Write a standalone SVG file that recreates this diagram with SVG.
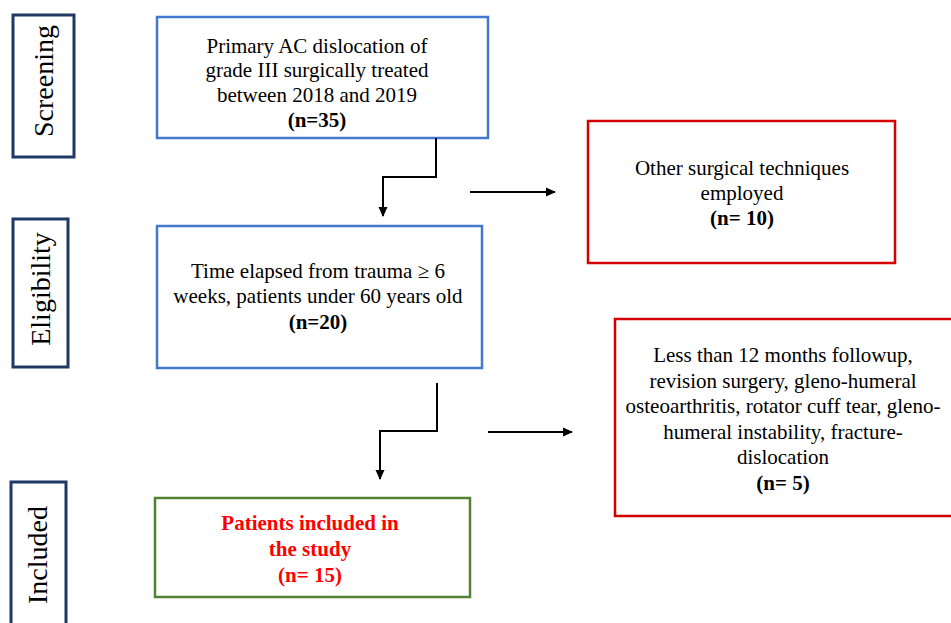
<svg xmlns="http://www.w3.org/2000/svg" width="951" height="623" viewBox="0 0 951 623">
<style>
text{font-family:"Liberation Serif","Times New Roman",serif;fill:#000;text-anchor:middle}
.t{font-size:21px}
.b{font-weight:bold}
.stage{fill:#fff;stroke:#1f3864;stroke-width:3}
.st{font-size:28px}
.blue{fill:#fff;stroke:#4278cf;stroke-width:2.5}
.red{fill:#fff;stroke:#d40000;stroke-width:2.5}
.green{fill:#fff;stroke:#548235;stroke-width:2.5}
.red-t{fill:#ff0000}
.c{fill:none;stroke:#000;stroke-width:2}
</style>
<defs>
<marker id="ah" markerWidth="12" markerHeight="12" refX="9" refY="5.5" orient="auto" markerUnits="userSpaceOnUse">
<path d="M0,1 L10,5.5 L0,10 Z" fill="#000"/>
</marker>
</defs>
<rect width="951" height="623" fill="#fff"/>
<g id="stage-screening">
<rect class="stage" x="13" y="15" width="61" height="142"/>
<text class="st" transform="translate(43.5,81) rotate(-90)" y="9">Screening</text>
</g>
<g id="stage-eligibility">
<rect class="stage" x="13" y="219" width="55" height="148"/>
<text class="st" transform="translate(41,289) rotate(-90)" y="9">Eligibility</text>
</g>
<g id="stage-included">
<rect class="stage" x="11" y="482" width="55" height="150"/>
<text class="st" transform="translate(38,555) rotate(-90)" y="9">Included</text>
</g>
<g id="box-screening">
<rect class="blue" x="157" y="17" width="331" height="121"/>
<text class="t" x="317" y="53">Primary AC dislocation of</text>
<text class="t" x="317" y="77">grade III surgically treated</text>
<text class="t" x="317" y="102">between 2018 and 2019</text>
<text class="t b" x="317" y="127">(n=35)</text>
</g>
<g id="box-eligibility">
<rect class="blue" x="157" y="226" width="325" height="142"/>
<text class="t" x="318" y="278">Time elapsed from trauma ≥ 6</text>
<text class="t" x="318" y="303">weeks, patients under 60 years old</text>
<text class="t b" x="318" y="329">(n=20)</text>
</g>
<g id="box-other">
<rect class="red" x="588" y="121" width="307" height="142"/>
<text class="t" x="742" y="175">Other surgical techniques</text>
<text class="t" x="742" y="200">employed</text>
<text class="t b" x="742" y="225">(n= 10)</text>
</g>
<g id="box-excluded">
<rect class="red" x="615" y="319" width="345" height="197"/>
<text class="t" x="783" y="362">Less than 12 months followup,</text>
<text class="t" x="783" y="388">revision surgery, gleno-humeral</text>
<text class="t" x="783" y="413">osteoarthritis, rotator cuff tear, gleno-</text>
<text class="t" x="783" y="439">humeral instability, fracture-</text>
<text class="t" x="783" y="464">dislocation</text>
<text class="t b" x="783" y="490">(n= 5)</text>
</g>
<g id="box-included">
<rect class="green" x="155" y="498" width="315" height="99"/>
<text class="t b red-t" x="310" y="530">Patients included in</text>
<text class="t b red-t" x="310" y="556">the study</text>
<text class="t b red-t" x="310" y="582">(n= 15)</text>
</g>
<g id="connectors">
<path class="c" d="M436,138 V177 H383 V216" marker-end="url(#ah)"/>
<path class="c" d="M470,192 H555" marker-end="url(#ah)"/>
<path class="c" d="M437,383 V431 H380 V479" marker-end="url(#ah)"/>
<path class="c" d="M488,432 H572" marker-end="url(#ah)"/>
</g>
</svg>
